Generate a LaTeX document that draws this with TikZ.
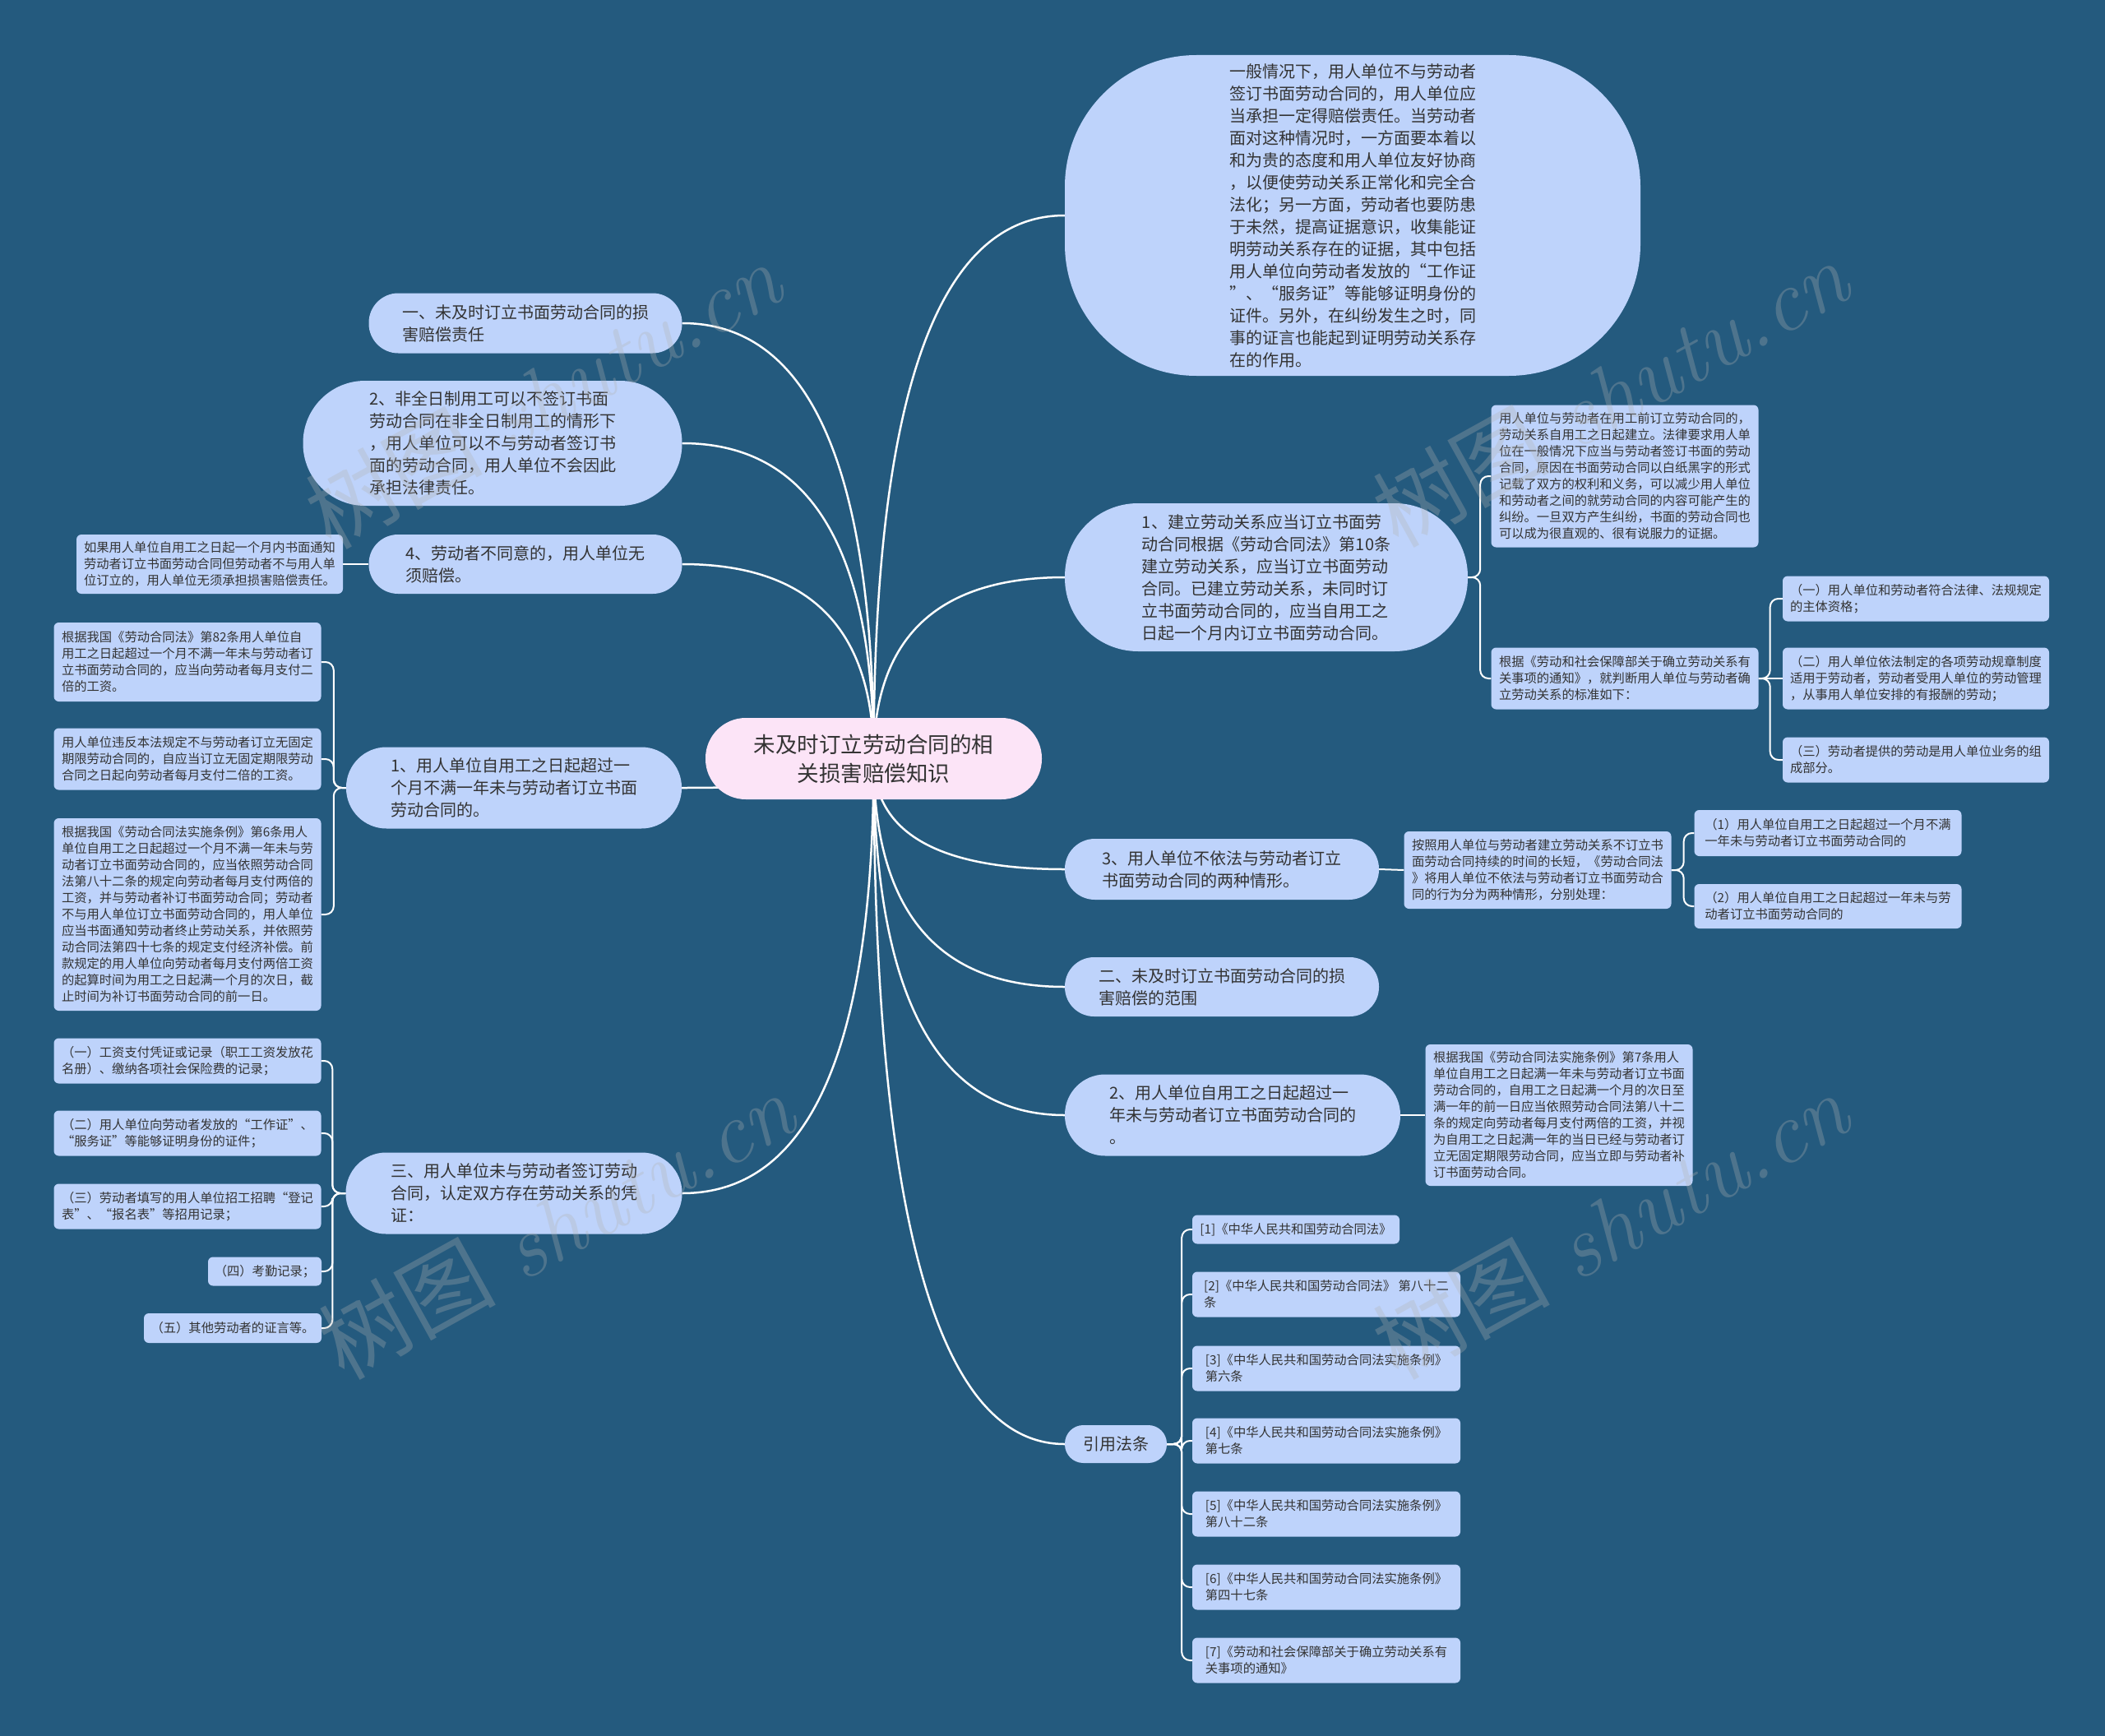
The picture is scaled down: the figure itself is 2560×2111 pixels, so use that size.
\documentclass[tikz,border=0pt]{standalone}
\usepackage{fontspec}
\newfontfamily\cjk{Noto Sans CJK SC}
\usetikzlibrary{calc}
\definecolor{bgcol}{HTML}{245A7E}
\definecolor{nodefill}{HTML}{BED3FB}
\definecolor{rootfill}{HTML}{FCE4F7}
\definecolor{txt}{HTML}{333333}
\pgfdeclarelayer{back}
\pgfdeclarelayer{links}
\pgfsetlayers{back,links,main}
\begin{document}
\begin{tikzpicture}[x=1pt,y=-1pt,
  nbox/.style={inner sep=0pt, align=left, text=txt},
  rootbox/.style={nbox, fill=rootfill, align=center, font=\cjk\fontsize{26.5}{35}\selectfont},
  lone/.style={nbox, fill=nodefill, font=\cjk\fontsize{20}{27}\selectfont},
  ltwo/.style={nbox, fill=nodefill, rounded corners=6pt, font=\cjk\fontsize{15.3}{20}\selectfont},
  link/.style={draw=white, line width=2.5pt},
  sublink/.style={draw=white, line width=2pt, rounded corners=10pt},
  qv/.style={to path={.. controls ($(\tikztostart)!0.667!(\tikztostart|-\tikztotarget)$) and ($(\tikztotarget)!0.667!(\tikztostart|-\tikztotarget)$) .. (\tikztotarget)}},
  wm/.style={text=gray!60, opacity=0.3, rotate=29, font=\fontsize{108}{108}\selectfont}
]
\begin{pgfonlayer}{back}
\fill[bgcol] (0,0) rectangle (2560,2111);
\end{pgfonlayer}
\useasboundingbox (0,0) rectangle (2560,2111);

% root
\node[rootbox, rounded corners=49pt, minimum width=409pt, minimum height=99pt] (root) at (1062.5,922.5) {未及时订立劳动合同的相\\关损害赔偿知识};

% right level one
\node[lone, rounded corners=160pt, minimum width=700pt, minimum height=390pt] (R1) at (1645,262) {一般情况下，用人单位不与劳动者\\签订书面劳动合同的，用人单位应\\当承担一定得赔偿责任。当劳动者\\面对这种情况时，一方面要本着以\\和为贵的态度和用人单位友好协商\\，以便使劳动关系正常化和完全合\\法化；另一方面，劳动者也要防患\\于未然，提高证据意识，收集能证\\明劳动关系存在的证据，其中包括\\用人单位向劳动者发放的“工作证\\”、“服务证”等能够证明身份的\\证件。另外，在纠纷发生之时，同\\事的证言也能起到证明劳动关系存\\在的作用。};
\node[lone, rounded corners=89pt, minimum width=490pt, minimum height=180pt] (R2) at (1540,702) {1、建立劳动关系应当订立书面劳\\动合同根据《劳动合同法》第10条\\建立劳动关系，应当订立书面劳动\\合同。已建立劳动关系，未同时订\\立书面劳动合同的，应当自用工之\\日起一个月内订立书面劳动合同。};
\node[lone, rounded corners=36.5pt, minimum width=382pt, minimum height=74pt] (R3) at (1486,1057) {3、用人单位不依法与劳动者订立\\书面劳动合同的两种情形。};
\node[lone, rounded corners=35.5pt, minimum width=382pt, minimum height=72pt] (R4) at (1486,1200) {二、未及时订立书面劳动合同的损\\害赔偿的范围};
\node[lone, rounded corners=49pt, minimum width=408pt, minimum height=99pt] (R5) at (1499,1356) {2、用人单位自用工之日起超过一\\年未与劳动者订立书面劳动合同的\\。};
\node[lone, rounded corners=22.5pt, minimum width=124pt, minimum height=46pt] (R6) at (1357,1756) {引用法条};

% left level one
\node[lone, rounded corners=36pt, minimum width=381pt, minimum height=73pt] (L1) at (639,393) {一、未及时订立书面劳动合同的损\\害赔偿责任};
\node[lone, rounded corners=75.5pt, minimum width=461pt, minimum height=152pt] (L2) at (599,539) {2、非全日制用工可以不签订书面\\劳动合同在非全日制用工的情形下\\，用人单位可以不与劳动者签订书\\面的劳动合同，用人单位不会因此\\承担法律责任。};
\node[lone, rounded corners=35.5pt, minimum width=381pt, minimum height=72pt] (L3) at (639,686) {4、劳动者不同意的，用人单位无\\须赔偿。};
\node[lone, rounded corners=49pt, minimum width=408pt, minimum height=99pt] (L4) at (625,958) {1、用人单位自用工之日起超过一\\个月不满一年未与劳动者订立书面\\劳动合同的。};
\node[lone, rounded corners=49pt, minimum width=409pt, minimum height=99pt] (L5) at (625,1451) {三、用人单位未与劳动者签订劳动\\合同，认定双方存在劳动关系的凭\\证：};

% right level two
\node[ltwo, minimum width=325pt, minimum height=173pt] (R2a) at (1976,579) {用人单位与劳动者在用工前订立劳动合同的，\\劳动关系自用工之日起建立。法律要求用人单\\位在一般情况下应当与劳动者签订书面的劳动\\合同，原因在书面劳动合同以白纸黑字的形式\\记载了双方的权利和义务，可以减少用人单位\\和劳动者之间的就劳动合同的内容可能产生的\\纠纷。一旦双方产生纠纷，书面的劳动合同也\\可以成为很直观的、很有说服力的证据。};
\node[ltwo, minimum width=325pt, minimum height=75pt] (R2b) at (1976,825) {根据《劳动和社会保障部关于确立劳动关系有\\关事项的通知》，就判断用人单位与劳动者确\\立劳动关系的标准如下：};
\node[ltwo, minimum width=324pt, minimum height=55pt] (R2b1) at (2330,728) {（一）用人单位和劳动者符合法律、法规规定\\的主体资格；};
\node[ltwo, minimum width=324pt, minimum height=75pt] (R2b2) at (2330,825) {（二）用人单位依法制定的各项劳动规章制度\\适用于劳动者，劳动者受用人单位的劳动管理\\，从事用人单位安排的有报酬的劳动；};
\node[ltwo, minimum width=324pt, minimum height=55pt] (R2b3) at (2330,924) {（三）劳动者提供的劳动是用人单位业务的组\\成部分。};
\node[ltwo, minimum width=325pt, minimum height=94pt] (R3a) at (1870,1058) {按照用人单位与劳动者建立劳动关系不订立书\\面劳动合同持续的时间的长短，《劳动合同法\\》将用人单位不依法与劳动者订立书面劳动合\\同的行为分为两种情形，分别处理：};
\node[ltwo, minimum width=325pt, minimum height=56pt] (R3a1) at (2223,1013) {（1）用人单位自用工之日起超过一个月不满\\一年未与劳动者订立书面劳动合同的};
\node[ltwo, minimum width=325pt, minimum height=54pt] (R3a2) at (2223,1102) {（2）用人单位自用工之日起超过一年未与劳\\动者订立书面劳动合同的};
\node[ltwo, minimum width=325pt, minimum height=172pt] (R5a) at (1896,1356) {根据我国《劳动合同法实施条例》第7条用人\\单位自用工之日起满一年未与劳动者订立书面\\劳动合同的，自用工之日起满一个月的次日至\\满一年的前一日应当依照劳动合同法第八十二\\条的规定向劳动者每月支付两倍的工资，并视\\为自用工之日起满一年的当日已经与劳动者订\\立无固定期限劳动合同，应当立即与劳动者补\\订书面劳动合同。};

% references
\node[ltwo, minimum width=252pt, minimum height=35pt] (F1) at (1576,1495) {[1]《中华人民共和国劳动合同法》};
\node[ltwo, minimum width=326pt, minimum height=55pt] (F2) at (1613,1574) {[2]《中华人民共和国劳动合同法》 第八十二\\条};
\node[ltwo, minimum width=326pt, minimum height=55pt] (F3) at (1613,1664) {[3]《中华人民共和国劳动合同法实施条例》\\第六条};
\node[ltwo, minimum width=326pt, minimum height=55pt] (F4) at (1613,1752) {[4]《中华人民共和国劳动合同法实施条例》\\第七条};
\node[ltwo, minimum width=326pt, minimum height=55pt] (F5) at (1613,1841) {[5]《中华人民共和国劳动合同法实施条例》\\第八十二条};
\node[ltwo, minimum width=326pt, minimum height=55pt] (F6) at (1613,1930) {[6]《中华人民共和国劳动合同法实施条例》\\第四十七条};
\node[ltwo, minimum width=326pt, minimum height=55pt] (F7) at (1613,2019) {[7]《劳动和社会保障部关于确立劳动关系有\\关事项的通知》};

% left level two
\node[ltwo, minimum width=324pt, minimum height=72pt] (L3a) at (255,686) {如果用人单位自用工之日起一个月内书面通知\\劳动者订立书面劳动合同但劳动者不与用人单\\位订立的，用人单位无须承担损害赔偿责任。};
\node[ltwo, minimum width=325pt, minimum height=96pt] (L4a) at (228,805) {根据我国《劳动合同法》第82条用人单位自\\用工之日起超过一个月不满一年未与劳动者订\\立书面劳动合同的，应当向劳动者每月支付二\\倍的工资。};
\node[ltwo, minimum width=325pt, minimum height=75pt] (L4b) at (228,923) {用人单位违反本法规定不与劳动者订立无固定\\期限劳动合同的，自应当订立无固定期限劳动\\合同之日起向劳动者每月支付二倍的工资。};
\node[ltwo, minimum width=325pt, minimum height=234pt] (L4c) at (228,1112) {根据我国《劳动合同法实施条例》第6条用人\\单位自用工之日起超过一个月不满一年未与劳\\动者订立书面劳动合同的，应当依照劳动合同\\法第八十二条的规定向劳动者每月支付两倍的\\工资，并与劳动者补订书面劳动合同；劳动者\\不与用人单位订立书面劳动合同的，用人单位\\应当书面通知劳动者终止劳动关系，并依照劳\\动合同法第四十七条的规定支付经济补偿。前\\款规定的用人单位向劳动者每月支付两倍工资\\的起算时间为用工之日起满一个月的次日，截\\止时间为补订书面劳动合同的前一日。};
\node[ltwo, minimum width=325pt, minimum height=55pt] (L5a) at (228,1290) {（一）工资支付凭证或记录（职工工资发放花\\名册）、缴纳各项社会保险费的记录；};
\node[ltwo, minimum width=325pt, minimum height=55pt] (L5b) at (228,1378) {（二）用人单位向劳动者发放的“工作证”、\\“服务证”等能够证明身份的证件；};
\node[ltwo, minimum width=325pt, minimum height=55pt] (L5c) at (228,1467) {（三）劳动者填写的用人单位招工招聘“登记\\表”、“报名表”等招用记录；};
\node[ltwo, minimum width=138pt, minimum height=35pt] (L5d) at (322,1546) {（四）考勤记录；};
\node[ltwo, minimum width=216pt, minimum height=36pt] (L5e) at (283,1615) {（五）其他劳动者的证言等。};

% connectors
\begin{pgfonlayer}{links}
\foreach \t in {R1,R2,R3,R4,R5,R6} \draw[link] (root.center) to[qv] (\t.west);
\foreach \t in {L1,L2,L3,L4,L5} \draw[link] (root.center) to[qv] (\t.east);
\draw[sublink] (R2.east) -- ++(15,0) |- (R2a.west);
\draw[sublink] (R2.east) -- ++(15,0) |- (R2b.west);
\draw[sublink] (R2b.east) -- ++(14,0) |- (R2b1.west);
\draw[sublink] (R2b.east) -- (R2b2.west);
\draw[sublink] (R2b.east) -- ++(14,0) |- (R2b3.west);
\draw[sublink] (R3.east) -- (R3a.west);
\draw[sublink] (R3a.east) -- ++(15,0) |- (R3a1.west);
\draw[sublink] (R3a.east) -- ++(15,0) |- (R3a2.west);
\draw[sublink] (R5.east) -- (R5a.west);
\foreach \t in {F1,F2,F3,F4,F5,F6,F7} \draw[sublink] (R6.east) -- ++(18,0) |- (\t.west);
\draw[sublink] (L3.west) -- (L3a.east);
\foreach \t in {L4a,L4b,L4c} \draw[sublink] (L4.west) -- ++(-15,0) |- (\t.east);
\foreach \t in {L5a,L5b,L5c,L5d,L5e} \draw[sublink] (L5.west) -- ++(-16,0) |- (\t.east);
\end{pgfonlayer}

% watermarks
\node[wm] (wm1) at (660,480) {{\cjk 树图} {\itshape shutu.cn}};
\node[wm] (wm2) at (1958,478) {{\cjk 树图} {\itshape shutu.cn}};
\node[wm] (wm3) at (676,1490) {{\cjk 树图} {\itshape shutu.cn}};
\node[wm] (wm4) at (1958,1490) {{\cjk 树图} {\itshape shutu.cn}};
\end{tikzpicture}
\end{document}
